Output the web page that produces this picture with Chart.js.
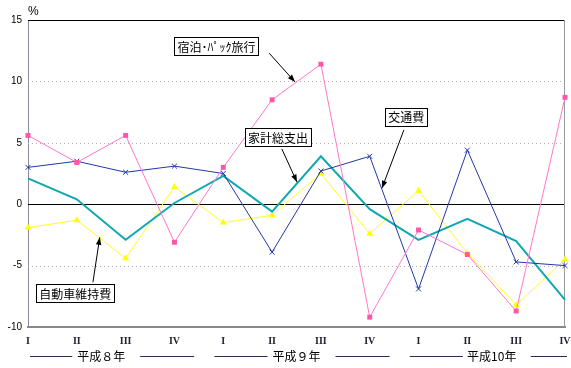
<!DOCTYPE html>
<html>
<head>
<meta charset="utf-8">
<script src="https://cdn.jsdelivr.net/npm/chart.js@4.4.1/dist/chart.umd.min.js"></script>
<style>
  html, body { margin: 0; padding: 0; background: #fff; }
  #wrap { width: 571px; height: 368px; }
</style>
</head>
<body>
<div id="wrap"><canvas id="chart" width="571" height="368"></canvas></div>
<script>
// quarters, 平成8年 - 平成10年
const quarters = ['I', 'II', 'III', 'IV', 'I', 'II', 'III', 'IV', 'I', 'II', 'III', 'IV'];
const years = ['平成８年', '平成９年', '平成10年'];

// 前年同期比 (%)
const travel = [5.6, 3.4, 5.6, -3.1, 3.0, 8.5, 11.4, -9.2, -2.1, -4.1, -8.7, 8.7];     // 宿泊・パック旅行
const transport = [3.0, 3.5, 2.6, 3.1, 2.5, -3.9, 2.7, 3.9, -6.9, 4.4, -4.7, -5.0];    // 交通費
const household = [2.1, 0.4, -2.9, 0.1, 2.3, -0.6, 3.9, -0.4, -2.9, -1.2, -3.0, -7.8]; // 家計総支出
const carUpkeep = [-1.9, -1.3, -4.4, 1.4, -1.5, -0.9, 2.5, -2.4, 1.1, -4.0, -8.2, -4.5]; // 自動車維持費

// callout labels: box centre and arrow in (quarter index, %) units
const callouts = [
    { text: '宿泊･ﾊﾟｯｸ旅行', box: [3.86, 12.85], from: [4.94, 12.3], to: [5.47, 9.95] },
    { text: '家計総支出', box: [5.12, 5.46], from: [5.2, 4.5], to: [5.51, 1.8] },
    { text: '交通費', box: [7.75, 7.13], from: [7.7, 6.05], to: [7.25, 1.3] },
    { text: '自動車維持費', box: [0.97, -7.25], from: [1.33, -6.35], to: [1.47, -2.7] }
];

function arrow(ctx, x1, y1, x2, y2) {
    const a = Math.atan2(y2 - y1, x2 - x1);
    ctx.beginPath();
    ctx.moveTo(x1, y1);
    ctx.lineTo(x2, y2);
    ctx.stroke();
    ctx.beginPath();
    ctx.moveTo(x2, y2);
    ctx.lineTo(x2 - 8 * Math.cos(a - 0.35), y2 - 8 * Math.sin(a - 0.35));
    ctx.lineTo(x2 - 8 * Math.cos(a + 0.35), y2 - 8 * Math.sin(a + 0.35));
    ctx.closePath();
    ctx.fill();
}

const decor = {
    id: 'decor',
    beforeDatasetsDraw(chart) {
        const { ctx, chartArea: ca, scales: { y } } = chart;
        ctx.save();
        ctx.lineWidth = 1;
        // dotted grid at 10, 5, -5
        ctx.strokeStyle = '#b8acac';
        ctx.setLineDash([1, 3]);
        [10, 5, -5].forEach(v => {
            const py = Math.round(y.getPixelForValue(v)) + 0.5;
            ctx.beginPath();
            ctx.moveTo(ca.left, py);
            ctx.lineTo(ca.right, py);
            ctx.stroke();
        });
        ctx.setLineDash([]);
        // zero line
        ctx.strokeStyle = '#000';
        ctx.beginPath();
        ctx.moveTo(ca.left, Math.round(y.getPixelForValue(0)) + 0.5);
        ctx.lineTo(ca.right, Math.round(y.getPixelForValue(0)) + 0.5);
        ctx.stroke();
        // frame top / right
        ctx.beginPath();
        ctx.moveTo(ca.left, ca.top + 0.5);
        ctx.lineTo(ca.right, ca.top + 0.5);
        ctx.stroke();
        ctx.strokeStyle = '#999';
        ctx.beginPath();
        ctx.moveTo(ca.right - 0.5, ca.top);
        ctx.lineTo(ca.right - 0.5, ca.bottom);
        ctx.stroke();
        ctx.restore();
    },
    afterDraw(chart) {
        const { ctx, chartArea: ca, scales: { x, y } } = chart;
        ctx.save();
        // unit
        ctx.fillStyle = '#000';
        ctx.font = '12px "Liberation Sans", sans-serif';
        ctx.textAlign = 'left';
        ctx.textBaseline = 'middle';
        ctx.fillText('%', ca.left, ca.top - 8);

        // callouts
        ctx.font = '12px "Noto Sans CJK JP", sans-serif';
        callouts.forEach(c => {
            ctx.strokeStyle = '#000';
            ctx.fillStyle = '#000';
            ctx.lineWidth = 1;
            arrow(ctx, x.getPixelForValue(c.from[0]), y.getPixelForValue(c.from[1]),
                x.getPixelForValue(c.to[0]), y.getPixelForValue(c.to[1]));
            const cx = x.getPixelForValue(c.box[0]);
            const cy = y.getPixelForValue(c.box[1]);
            const w = ctx.measureText(c.text).width + 6;
            const h = 18;
            ctx.fillStyle = '#fff';
            ctx.fillRect(Math.round(cx - w / 2) + 0.5, Math.round(cy - h / 2) + 0.5, Math.round(w), h);
            ctx.strokeRect(Math.round(cx - w / 2) + 0.5, Math.round(cy - h / 2) + 0.5, Math.round(w), h);
            ctx.fillStyle = '#000';
            ctx.textAlign = 'center';
            ctx.textBaseline = 'middle';
            ctx.fillText(c.text, cx, cy + 1);
        });

        // year groups under the quarters
        const yy = 356;
        ctx.font = '12px "Noto Sans CJK JP", sans-serif';
        ctx.strokeStyle = '#2a2a50';
        ctx.lineWidth = 1;
        years.forEach((label, i) => {
            const cx = x.getPixelForValue(i * 4 + 1.5);
            ctx.fillStyle = '#000';
            ctx.fillText(label, cx, yy);
            const segs = [[cx - 82, cx - 29], [cx + 39, cx + 93]];
            segs.forEach(([a, b]) => {
                a = Math.max(a, 30);
                b = Math.min(b, 567);
                ctx.beginPath();
                ctx.moveTo(a, yy + 0.5);
                ctx.lineTo(b, yy + 0.5);
                ctx.stroke();
            });
        });
        ctx.restore();
    }
};

new Chart(document.getElementById('chart'), {
    type: 'line',
    data: {
        labels: quarters,
        datasets: [
            {
                label: '宿泊・パック旅行',
                data: travel,
                borderColor: '#ff77cc',
                backgroundColor: '#ff55aa',
                borderWidth: 1,
                pointStyle: 'rect',
                pointRadius: 3.5,
                pointBorderWidth: 0
            },
            {
                label: '交通費',
                data: transport,
                borderColor: '#2038a8',
                backgroundColor: '#2038a8',
                borderWidth: 1,
                pointStyle: 'crossRot',
                pointRadius: 3.5,
                pointBorderWidth: 1
            },
            {
                label: '家計総支出',
                data: household,
                borderColor: '#10a8b0',
                borderWidth: 2,
                pointRadius: 0
            },
            {
                label: '自動車維持費',
                data: carUpkeep,
                borderColor: '#ffff20',
                backgroundColor: '#ffff00',
                borderWidth: 1,
                pointStyle: 'triangle',
                pointRadius: 4,
                pointBorderWidth: 0
            }
        ]
    },
    options: {
        responsive: false,
        animation: false,
        layout: { padding: { top: 20, right: 6, left: 0, bottom: 0 } },
        plugins: {
            legend: { display: false },
            tooltip: { enabled: false }
        },
        elements: { line: { tension: 0 } },
        scales: {
            x: {
                offset: false,
                grid: { display: false },
                border: { display: true, color: '#888', width: 2 },
                ticks: {
                    padding: 0,
                    color: '#223',
                    font: { family: '"Liberation Serif", serif', size: 10, weight: 'bold' },
                    maxRotation: 0,
                    autoSkip: false
                },
                afterFit(scale) { scale.height = 41; }
            },
            y: {
                min: -10,
                max: 15,
                grid: { display: false, drawTicks: false },
                border: { display: true, color: '#8a8aa0', width: 1 },
                ticks: {
                    stepSize: 5,
                    padding: 6,
                    color: '#000',
                    font: { family: '"Liberation Sans", Arial, sans-serif', size: 10 }
                },
                afterFit(scale) { scale.width = 28; }
            }
        }
    },
    plugins: [decor]
});
</script>
</body>
</html>
